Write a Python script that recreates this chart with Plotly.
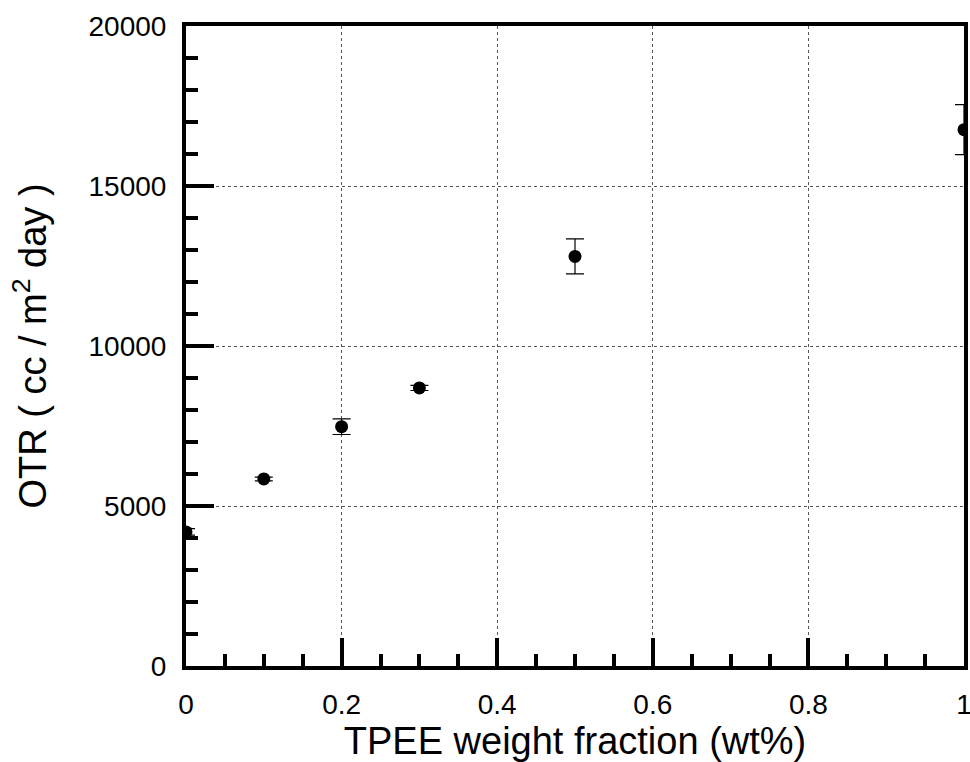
import plotly.graph_objects as go

x_vals = [0, 0.1, 0.2, 0.3, 0.5, 1.0]
otr = [4190, 5845, 7480, 8690, 12800, 16760]
otr_err = [100, 60, 245, 80, 547, 782]

x_ticks = [0, 0.2, 0.4, 0.6, 0.8, 1]
x_ticklabels = ["0", "0.2", "0.4", "0.6", "0.8", "1"]
y_ticks = [0, 5000, 10000, 15000, 20000]
y_ticklabels = ["0", "5000", "10000", "15000", "20000"]

fig = go.Figure()
fig.add_trace(go.Scatter(
    x=x_vals, y=otr, mode="markers",
    marker=dict(color="black", size=13),
    error_y=dict(type="data", array=otr_err, visible=True, color="black",
                 thickness=1.2, width=9),
    showlegend=False,
))

font = "Liberation Sans, Arial, sans-serif"
fig.update_layout(
    width=970, height=762,
    margin=dict(l=186, r=6, t=26, b=96),
    plot_bgcolor="white", paper_bgcolor="white",
    font=dict(family=font, color="black"),
    xaxis=dict(
        range=[0, 1], tickvals=x_ticks, ticktext=x_ticklabels,
        ticks="inside", ticklen=28, tickwidth=4, tickcolor="black",
        showline=True, linewidth=4, linecolor="black", mirror=True,
        showgrid=True, gridcolor="#555555", griddash="dot", gridwidth=1,
        zeroline=False, automargin=False, ticklabelstandoff=10,
        ticklabeloverflow="allow",
        tickfont=dict(size=28, family=font),
        minor=dict(dtick=0.05, ticks="inside", ticklen=12, tickwidth=4,
                   tickcolor="black", showgrid=False),
        title=dict(text="TPEE weight fraction (wt%)", font=dict(size=38, family=font), standoff=6),
    ),
    yaxis=dict(
        range=[0, 20000], tickvals=y_ticks, ticktext=y_ticklabels,
        ticks="inside", ticklen=28, tickwidth=4, tickcolor="black",
        showline=True, linewidth=4, linecolor="black", mirror=True,
        showgrid=True, gridcolor="#555555", griddash="dot", gridwidth=1,
        zeroline=False, automargin=False, ticklabelstandoff=10,
        ticklabeloverflow="allow",
        tickfont=dict(size=28, family=font),
        minor=dict(dtick=1000, ticks="inside", ticklen=12, tickwidth=4,
                   tickcolor="black", showgrid=False),
        title=dict(text="OTR ( cc / m<sup>2</sup> day )", font=dict(size=38, family=font), standoff=31),
    ),
)

fig.write_html(
    "out.html",
    config={"displayModeBar": False},
    post_script="document.body.style.margin='0';document.body.style.overflow='hidden';",
)
